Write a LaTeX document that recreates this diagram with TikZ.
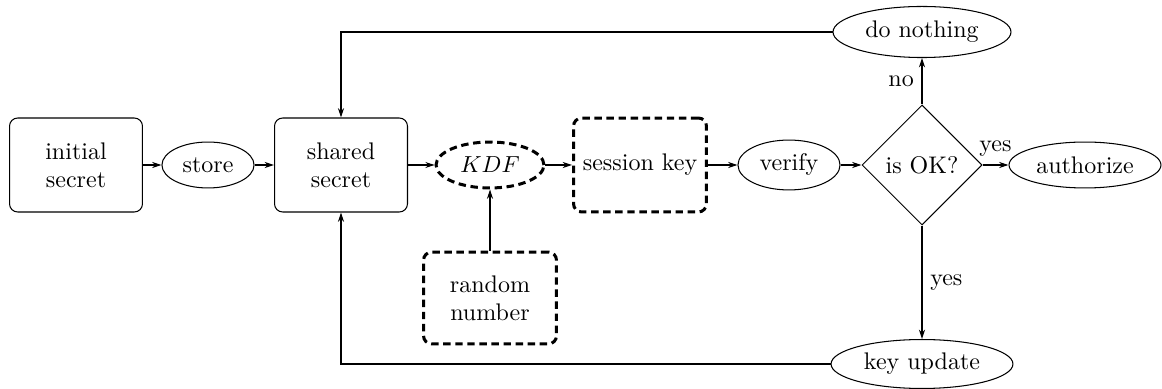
\documentclass[tikz,border=0pt]{standalone}
\usetikzlibrary{shapes.geometric,arrows.meta}
\begin{document}
\begin{tikzpicture}[x=0.431pt,y=-0.431pt,
  line width=0.45pt,
  every node/.style={font=\fontsize{10.35pt}{12.2pt}\selectfont},
  >={Stealth[length=4pt,width=2.6pt]},
  box/.style={draw,rounded corners=3.5pt,align=center,inner sep=0pt,
    minimum width=57.3pt,minimum height=40.5pt},
  dbox/.style={box,line width=1.3pt,dash pattern=on 3.2pt off 2pt},
  oval/.style={draw,ellipse,inner sep=0pt},
  doval/.style={oval,line width=1.3pt,dash pattern=on 3.2pt off 2pt},
  decision/.style={draw,diamond,inner sep=0pt,minimum width=51.7pt,minimum height=51.7pt},
  flow/.style={->}]
\useasboundingbox (0,0) rectangle (1162,389);

\node[box] (init) at (76,165) {initial\\secret};
\node[oval,minimum width=39.7pt,minimum height=19.8pt] (store) at (208,165) {store};
\node[box] (shared) at (341,165) {shared\\secret};
\node[doval,minimum width=46.5pt,minimum height=19.8pt] (kdf) at (490,165) {$KDF$};
\node[dbox] (session) at (640,165) {session key};
\node[dbox,minimum height=39.6pt] (random) at (490,298) {random\\number};
\node[oval,minimum width=44pt,minimum height=21.5pt] (verify) at (789,165) {verify};
\node[decision] (ok) at (922,165) {is OK?};
\node[oval,minimum width=65.5pt,minimum height=19.8pt] (auth) at (1085,165) {authorize};
\node[oval,minimum width=76.7pt,minimum height=22pt] (nothing) at (922,32) {do nothing};
\node[oval,minimum width=78.4pt,minimum height=21.1pt] (update) at (922,364) {key update};

\draw[flow] (init) -- (store);
\draw[flow] (store) -- (shared);
\draw[flow] (shared) -- (kdf);
\draw[flow] (kdf) -- (session);
\draw[flow] (session) -- (verify);
\draw[flow] (verify) -- (ok);
\draw[flow] (random) -- (kdf);
\draw[flow] (ok) -- node[above] {yes} (auth);
\draw[flow] (ok) -- node[left] {no} (nothing);
\draw[flow] (ok) -- node[right] {yes} (update);
\draw[flow] (nothing) -| (shared);
\draw[flow] (update) -| (shared);
\end{tikzpicture}
\end{document}
